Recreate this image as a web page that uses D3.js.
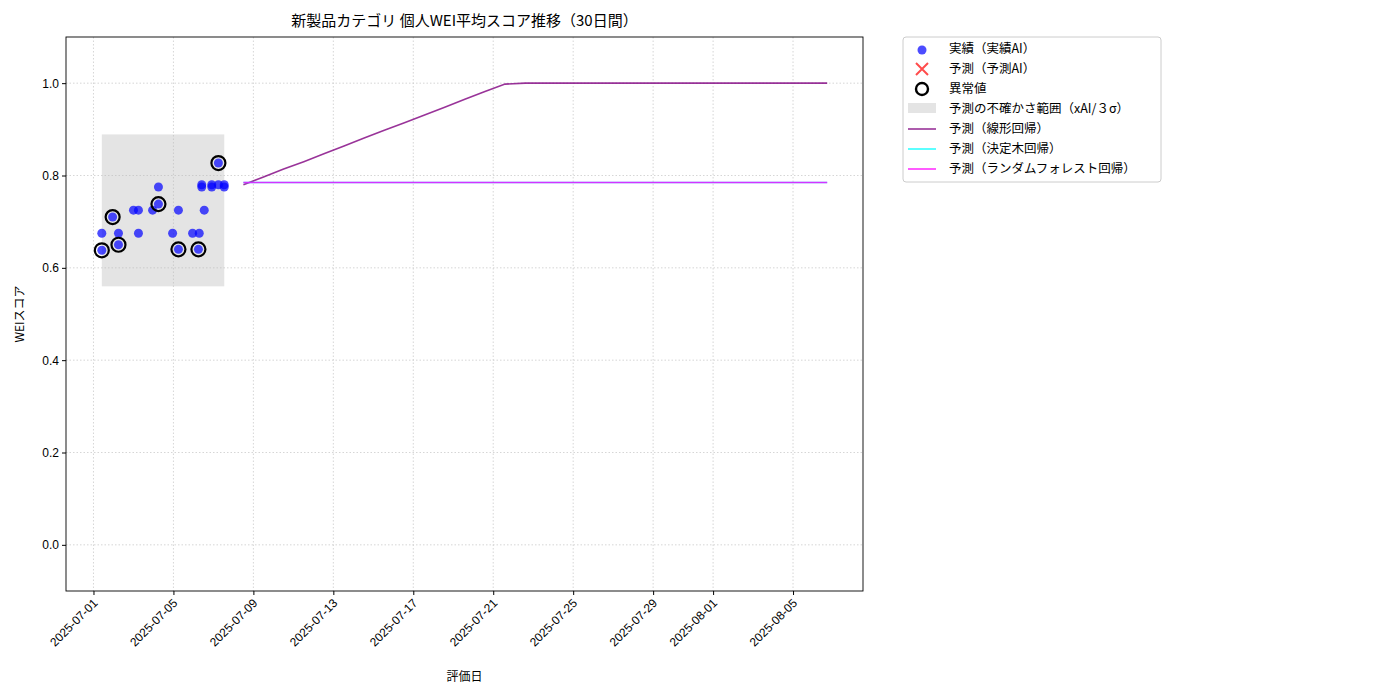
<!DOCTYPE html>
<html><head><meta charset="utf-8">
<script src="https://cdn.jsdelivr.net/npm/d3@7"></script>
<style>body{margin:0;background:#fff;font-family:"Noto Sans CJK JP","DejaVu Sans",sans-serif}</style>
</head><body><svg id="c" width="1400" height="700"></svg>
<script>
// actual scores
const actualDates = ["2025-07-01T10","2025-07-01T10","2025-07-01T23","2025-07-02T06","2025-07-02T06","2025-07-03T00","2025-07-03T06","2025-07-03T06","2025-07-03T23","2025-07-04T06","2025-07-04T06","2025-07-04T23","2025-07-05T06","2025-07-05T06","2025-07-05T23","2025-07-06T07","2025-07-06T06","2025-07-06T10","2025-07-06T10","2025-07-06T13","2025-07-06T22","2025-07-06T22","2025-07-07T06","2025-07-07T06","2025-07-07T13","2025-07-07T13"];
const actualValues = [0.675,0.638,0.71,0.675,0.65,0.725,0.725,0.675,0.725,0.775,0.738,0.675,0.725,0.64,0.675,0.675,0.64,0.78,0.775,0.725,0.78,0.775,0.78,0.827,0.78,0.775];
const anomalyIdx = [1,2,4,10,13,16,23];
// uncertainty band
const bandDates = ["2025-07-01T10","2025-07-07T13"];
const bandRange = [0.56,0.889];
// forecasts
const forecastStart = "2025-07-08T12", forecastEnd = "2025-08-06T17";
const linearValues = [0.780,0.797,0.814,0.830,0.847,0.864,0.881,0.898,0.914,0.931,0.948,0.965,0.982,0.998,1.0,1.0,1.0,1.0,1.0,1.0,1.0,1.0,1.0,1.0,1.0,1.0,1.0,1.0,1.0,1.0];
const treeValues = [0.785,0.785,0.785,0.785,0.785,0.785,0.785,0.785,0.785,0.785,0.785,0.785,0.785,0.785,0.785,0.785,0.785,0.785,0.785,0.785,0.785,0.785,0.785,0.785,0.785,0.785,0.785,0.785,0.785,0.785];
const forestValues = treeValues.slice();
const xTicks = ["2025-07-01","2025-07-05","2025-07-09","2025-07-13","2025-07-17","2025-07-21","2025-07-25","2025-07-29","2025-08-01","2025-08-05"];
const yTicks = [0,0.2,0.4,0.6,0.8,1.0];

const pd = d3.timeParse("%Y-%m-%dT%H"), pdd = d3.timeParse("%Y-%m-%d");
const svg = d3.select("#c");
const L=66,R=863,T=37,B=591;
// 07-01 sits at x=93, 20px per day
const day0 = pdd("2025-07-01");
const x = d3.scaleTime().domain([d3.timeHour.offset(day0, -27*24/20), d3.timeHour.offset(day0, (R-93)*24/20)]).range([L,R]);
const y = d3.scaleLinear().domain([-0.1,1.1]).range([B,T]);

const g = svg.append("g");
g.selectAll(".gx").data(xTicks).join("line").attr("x1",d=>x(pdd(d))).attr("x2",d=>x(pdd(d))).attr("y1",T).attr("y2",B)
 .attr("stroke","#ccc").attr("stroke-dasharray","1.5,2").attr("stroke-width",0.8);
g.selectAll(".gy").data(yTicks).join("line").attr("y1",d=>y(d)).attr("y2",d=>y(d)).attr("x1",L).attr("x2",R)
 .attr("stroke","#ccc").attr("stroke-dasharray","1.5,2").attr("stroke-width",0.8);

g.append("rect").attr("x",x(pd(bandDates[0]))).attr("width",x(pd(bandDates[1]))-x(pd(bandDates[0])))
 .attr("y",y(bandRange[1])).attr("height",y(bandRange[0])-y(bandRange[1])).attr("fill","#bbb").attr("opacity",0.4);

const fs = pd(forecastStart), fe = pd(forecastEnd);
const fd = i => new Date(+fs + (fe-fs)*i/(linearValues.length-1));
const line = d3.line().x((d,i)=>x(fd(i))).y(d=>y(d));
[[linearValues,"#800080"],[treeValues,"#00ffff"],[forestValues,"#ff00ff"]].forEach(([v,c])=>
 g.append("path").attr("d",line(v)).attr("fill","none").attr("stroke",c).attr("stroke-opacity",0.8).attr("stroke-width",1.6));

g.selectAll(".pt").data(actualValues).join("circle").attr("cx",(d,i)=>x(pd(actualDates[i]))).attr("cy",d=>y(d))
 .attr("r",4.5).attr("fill","#0000ff").attr("fill-opacity",0.7);
g.selectAll(".an").data(anomalyIdx).join("circle").attr("cx",i=>x(pd(actualDates[i]))).attr("cy",i=>y(actualValues[i]))
 .attr("r",7).attr("fill","none").attr("stroke","#000").attr("stroke-width",2.2);

svg.append("rect").attr("x",L).attr("y",T).attr("width",R-L).attr("height",B-T).attr("fill","none").attr("stroke","#000").attr("stroke-width",0.9);

const xa = svg.append("g").attr("transform",`translate(0,${B})`)
 .call(d3.axisBottom(x).tickValues(xTicks.map(pdd)).tickFormat(d3.timeFormat("%Y-%m-%d")).tickSize(4));
xa.select(".domain").remove();
xa.selectAll("text").attr("font-size",12).attr("text-anchor","end").attr("x",-6).attr("y",8).attr("dy","0.35em").attr("transform","rotate(-45)").attr("fill","#000");
const ya = svg.append("g").attr("transform",`translate(${L},0)`).call(d3.axisLeft(y).tickValues(yTicks).tickFormat(d3.format(".1f")).tickSize(4));
ya.select(".domain").remove();
ya.selectAll("text").attr("font-size",12).attr("fill","#000");
svg.selectAll(".tick line").attr("stroke","#000");

svg.append("text").attr("x",(L+R)/2).attr("y",26).attr("text-anchor","middle").attr("font-size",15).text("新製品カテゴリ 個人WEI平均スコア推移（30日間）");
svg.append("text").attr("x",(L+R)/2).attr("y",681).attr("text-anchor","middle").attr("font-size",12).text("評価日");
svg.append("text").attr("transform",`translate(24,${(T+B)/2}) rotate(-90)`).attr("text-anchor","middle").attr("font-size",12).text("WEIスコア");

// legend
const lg = svg.append("g").attr("transform","translate(903,37)");
lg.append("rect").attr("width",258).attr("height",145).attr("rx",3).attr("fill","#fff").attr("stroke","#ccc");
const items = ["実績（実績AI）","予測（予測AI）","異常値","予測の不確かさ範囲（xAI/３σ）","予測（線形回帰）","予測（決定木回帰）","予測（ランダムフォレスト回帰）"];
items.forEach((t,i)=>{
 const yy = 11+i*20;
 lg.append("text").attr("x",46).attr("y",yy+4.5).attr("font-size",12.5).text(t);
 const cx=19;
 if(i==0) lg.append("circle").attr("cx",cx).attr("cy",yy+2).attr("r",4.5).attr("fill","#0000ff").attr("fill-opacity",0.7);
 if(i==1) lg.append("path").attr("d",`M${cx-6},${yy-5}L${cx+6},${yy+7}M${cx+6},${yy-5}L${cx-6},${yy+7}`).attr("stroke","#ff0000").attr("stroke-opacity",0.7).attr("stroke-width",2);
 if(i==2) lg.append("circle").attr("cx",cx).attr("cy",yy+1).attr("r",6).attr("fill","none").attr("stroke","#000").attr("stroke-width",2.4);
 if(i==3) lg.append("rect").attr("x",5).attr("y",yy-5).attr("width",28).attr("height",10).attr("fill","#bbb").attr("opacity",0.4);
 if(i>=4) lg.append("line").attr("x1",5).attr("x2",33).attr("y1",yy+1).attr("y2",yy+1).attr("stroke",["#800080","#00ffff","#ff00ff"][i-4]).attr("stroke-opacity",0.8).attr("stroke-width",1.6);
});
</script></body></html>
